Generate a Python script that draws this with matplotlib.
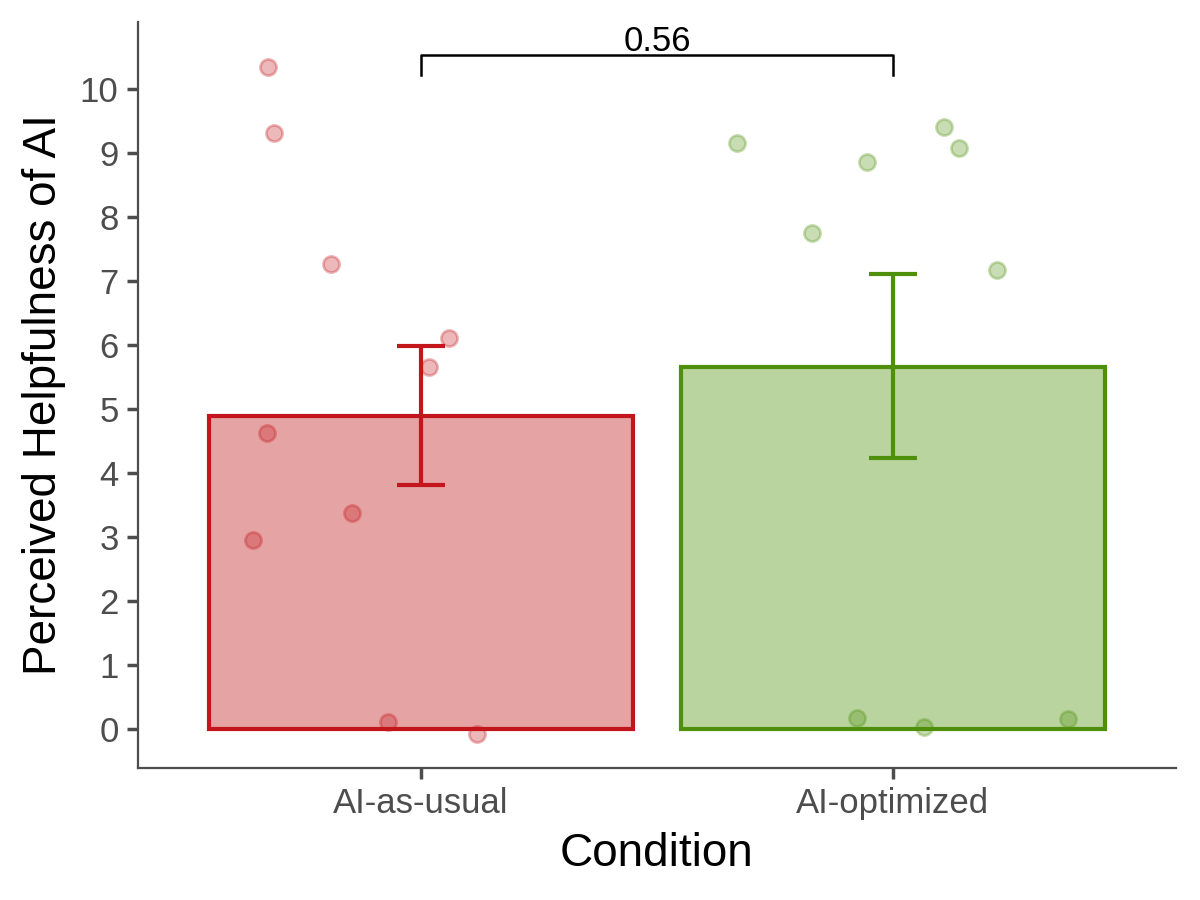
import matplotlib
matplotlib.use("Agg")
import matplotlib.pyplot as plt
import numpy as np

plt.rcParams['font.family'] = ['Liberation Sans', 'DejaVu Sans']

categories = ["AI-as-usual", "AI-optimized"]
means = [4.89, 5.66]
err_low = [3.81, 4.23]
err_high = [5.98, 7.11]
edge_colors = ["#C3161C", "#4E8F0B"]
fill_colors = ["#E5A3A3", "#B9D49E"]

pts_usual_x = [0.675, 0.688, 0.809, 1.059, 1.017, 0.673, 0.854, 0.643, 0.930, 1.119]
pts_usual_y = [10.34, 9.31, 7.27, 6.11, 5.66, 4.63, 3.38, 2.95, 0.11, -0.08]
pts_opt_x = [1.669, 2.108, 2.140, 1.945, 1.828, 2.221, 1.924, 2.066, 2.372]
pts_opt_y = [9.16, 9.41, 9.08, 8.86, 7.75, 7.17, 0.17, 0.03, 0.16]

p_label = "0.56"
bracket_y = 10.53
bracket_tick = 10.22

fig = plt.figure(figsize=(12, 9), dpi=100)
ax = fig.add_axes([0.115, 0.1467, 0.865, 0.829])

xpos = np.arange(1, len(categories) + 1)
ax.bar(xpos, means, width=0.9, color=fill_colors, edgecolor=edge_colors, linewidth=3, zorder=1)

for px, py, c in [(pts_usual_x, pts_usual_y, edge_colors[0]), (pts_opt_x, pts_opt_y, edge_colors[1])]:
    ax.scatter(px, py, s=135, facecolor=matplotlib.colors.to_rgba(c, 0.3),
               edgecolor=matplotlib.colors.to_rgba(c, 0.3), linewidth=2, zorder=2)

for i, x in enumerate(xpos):
    lo, hi = err_low[i], err_high[i]
    ax.errorbar([x], [means[i]], yerr=[[means[i] - lo], [hi - means[i]]], fmt='none',
                ecolor=edge_colors[i], elinewidth=3, capsize=17, capthick=3, zorder=3)

ax.plot([1, 1, 2, 2], [bracket_tick, bracket_y, bracket_y, bracket_tick], color='black', lw=1.8, zorder=4,
        clip_on=False)
ax.text(1.5, bracket_y + 0.06, p_label, ha='center', va='baseline', fontsize=25, color='black')

ax.set_xlim(0.4, 2.6)
ax.set_ylim(-0.61, 11.05)
ax.set_xticks(xpos)
ax.set_xticklabels(categories)
ax.set_yticks(np.arange(0, 11, 1))

for s in ['top', 'right']:
    ax.spines[s].set_visible(False)
for s in ['left', 'bottom']:
    ax.spines[s].set_color('#4D4D4D')
    ax.spines[s].set_linewidth(1.6)
ax.tick_params(axis='both', colors='#4D4D4D', labelcolor='#4D4D4D', labelsize=25, width=2.5, length=8, pad=6)

ax.set_xlabel("Condition", fontsize=33, color='black', labelpad=8)
ax.set_ylabel("Perceived Helpfulness of AI", fontsize=33, color='black', labelpad=10)

fig.savefig("out.png", dpi=100)
